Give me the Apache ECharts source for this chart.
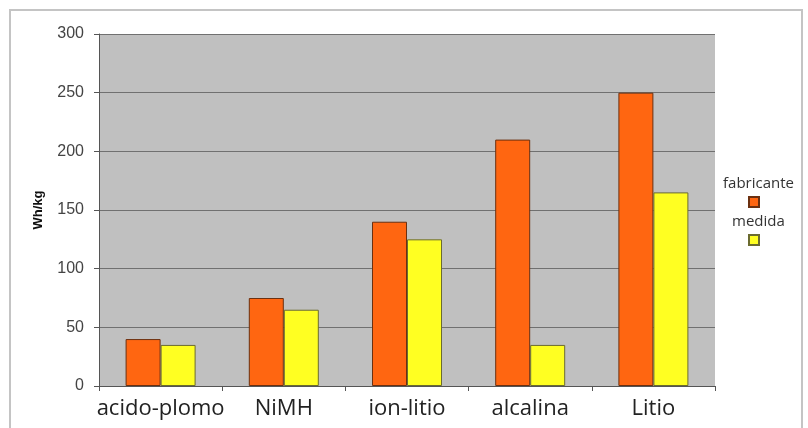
<!DOCTYPE html>
<html>
<head>
<meta charset="utf-8">
<script src="https://cdn.jsdelivr.net/npm/echarts@6/dist/echarts.min.js"></script>
<style>html,body{margin:0;padding:0;background:#fff;}#c{width:808px;height:428px;}</style>
</head>
<body>
<div id="c"></div>
<script>
const categories = ['acido-plomo', 'NiMH', 'ion-litio', 'alcalina', 'Litio'];
const fabricante = [40, 75, 140, 210, 250];
const medida = [35, 65, 125, 35, 165];
const seriesNames = ['fabricante', 'medida'];
const yAxisName = 'Wh/kg';

const chart = echarts.init(document.getElementById('c'), null, {renderer: 'canvas'});
chart.setOption({
  animation: false,
  backgroundColor: '#ffffff',
  grid: {left: 99, right: 93, top: 34, bottom: 42, show: true, backgroundColor: '#c0c0c0', borderWidth: 0},
  legend: {
    orient: 'vertical', left: 743, top: 191, itemWidth: 10, itemHeight: 10, itemGap: 26,
    icon: 'rect', formatter: function () { return ''; },
    data: seriesNames
  },
  graphic: [
    {type: 'rect', shape: {x: 10, y: 10, width: 792, height: 440}, style: {fill: 'none', stroke: '#c4c4c4', lineWidth: 2}, silent: true, z: -1},
    {type: 'text', left: 723, top: 176, style: {text: 'fabricante', font: '15px "Open Sans", sans-serif', fill: '#333'}},
    {type: 'text', left: 732, top: 214, style: {text: 'medida', font: '15px "Open Sans", sans-serif', fill: '#333'}}
  ],
  xAxis: {
    type: 'category', data: categories,
    axisLine: {lineStyle: {color: '#555', width: 1}},
    axisTick: {show: true, length: 5, lineStyle: {color: '#555'}},
    axisLabel: {interval: 0, fontSize: 22, fontFamily: '"Open Sans", sans-serif', color: '#222', margin: 12}
  },
  yAxis: {
    type: 'value', min: 0, max: 300, interval: 50,
    name: yAxisName, nameLocation: 'middle', nameGap: 54,
    nameTextStyle: {fontWeight: 'bold', fontSize: 13, fontFamily: 'Liberation Sans, Arial, sans-serif', color: '#111'},
    axisLine: {show: true, lineStyle: {color: '#555', width: 1}},
    axisTick: {show: true, length: 5, lineStyle: {color: '#555'}},
    axisLabel: {fontSize: 16, fontFamily: 'Liberation Sans, Arial, sans-serif', color: '#444', margin: 15},
    splitLine: {lineStyle: {color: '#707070', width: 1}}
  },
  series: [
    {name: seriesNames[0], type: 'bar', data: fabricante, barWidth: 35, barGap: '0%',
     itemStyle: {color: '#ff6611', borderColor: '#6b3010', borderWidth: 1}},
    {name: seriesNames[1], type: 'bar', data: medida, barWidth: 35,
     itemStyle: {color: '#ffff22', borderColor: '#6b6b30', borderWidth: 1}}
  ]
});
</script>
</body>
</html>
